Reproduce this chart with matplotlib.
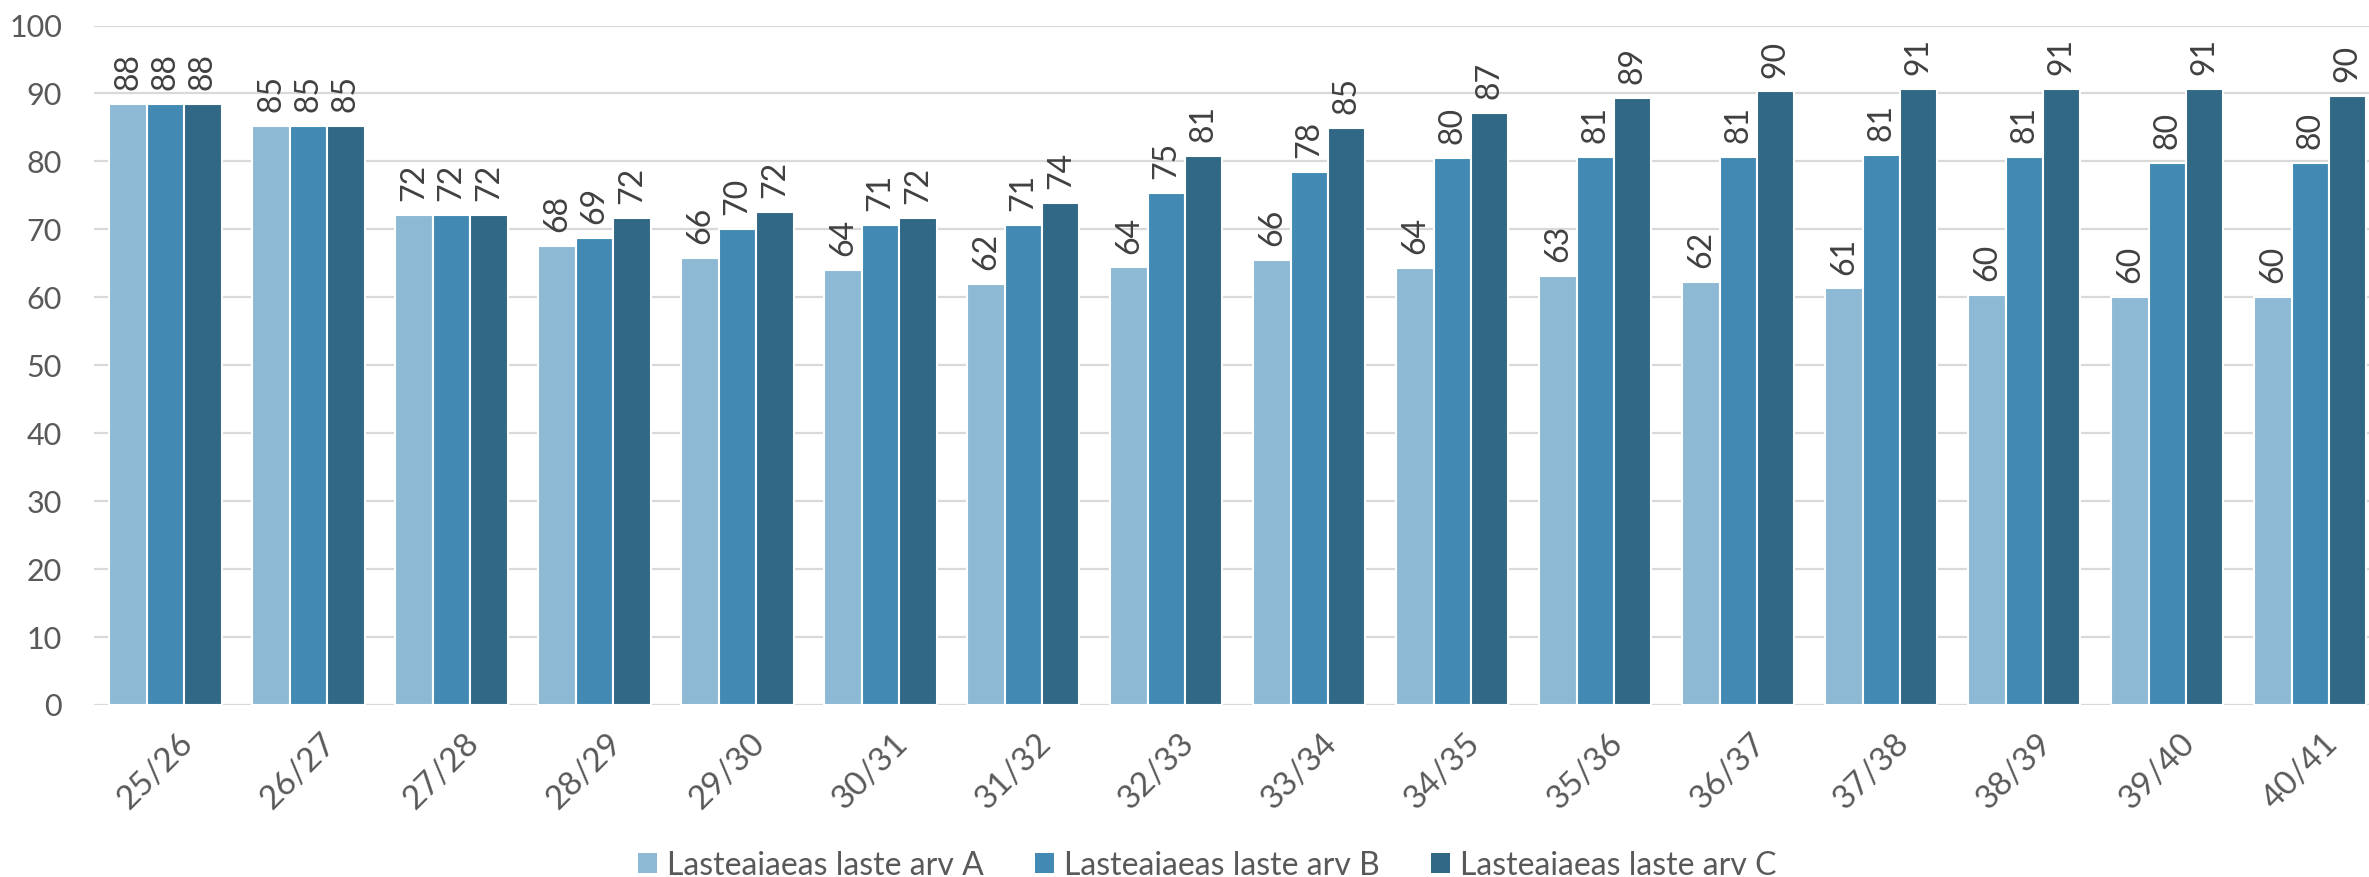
import matplotlib
matplotlib.use("Agg")
import matplotlib.pyplot as plt
import numpy as np
from matplotlib.patches import Patch

categories = ["25/26", "26/27", "27/28", "28/29", "29/30", "30/31", "31/32", "32/33",
              "33/34", "34/35", "35/36", "36/37", "37/38", "38/39", "39/40", "40/41"]
series_names = ["Lasteaiaeas laste arv A", "Lasteaiaeas laste arv B", "Lasteaiaeas laste arv C"]
values_a = [88.4, 85.2, 72.1, 67.6, 65.8, 64.0, 62.0, 64.4, 65.5, 64.3, 63.2, 62.2, 61.3, 60.3, 60.1, 60.1]
values_b = [88.4, 85.2, 72.1, 68.7, 70.0, 70.6, 70.6, 75.3, 78.4, 80.5, 80.7, 80.7, 81.0, 80.7, 79.8, 79.8]
values_c = [88.4, 85.2, 72.1, 71.7, 72.5, 71.7, 73.9, 80.8, 84.9, 87.1, 89.4, 90.3, 90.6, 90.6, 90.6, 89.6]
colors = ["#8DB9D4", "#428AB3", "#316886"]
yticks = [0, 10, 20, 30, 40, 50, 60, 70, 80, 90, 100]

font = ["Lato", "Open Sans", "DejaVu Sans"]

fig = plt.figure(figsize=(23.69, 8.77), dpi=100)
ax = fig.add_axes([94 / 2369, 1 - 705 / 877, 1 - 94 / 2369, (705 - 25.5) / 877])

x = np.arange(len(categories))
bw = 0.784 / 3
for i, (vals, col) in enumerate(zip([values_a, values_b, values_c], colors)):
    pos = x + (i - 1) * bw
    bars = ax.bar(pos, vals, width=bw, color=col, edgecolor="white", linewidth=1.5, zorder=3)
    for b, v in zip(bars, vals):
        ax.annotate(f"{round(v):d}", (b.get_x() + b.get_width() / 2, v),
                    xytext=(0, 10), textcoords="offset points", rotation=90,
                    ha="center", va="bottom", fontsize=23, color="#404040",
                    family=font, zorder=4)

ax.set_ylim(0, 100)
ax.set_xlim(-0.5, 15.41)
ax.set_yticks(yticks)
ax.set_yticklabels([str(t) for t in yticks], family=font, fontsize=22, color="#595959")
ax.yaxis.grid(True, color="#D9D9D9", linewidth=1.6, zorder=0)
ax.set_axisbelow(True)
ax.tick_params(axis="y", length=0, pad=23)
ax.tick_params(axis="x", length=0, pad=24)
ax.set_xticks(x + 0.16)
ax.set_xticklabels(categories, rotation=45, ha="right", va="center", rotation_mode="anchor",
                   family=font, fontsize=24, color="#595959")
for s in ax.spines.values():
    s.set_visible(False)

handles = [Patch(facecolor=c, edgecolor="none") for c in colors]
fig.legend(handles, series_names, loc="center", bbox_to_anchor=(0.5095, 0.013), ncol=3,
           frameon=False, prop={"family": font, "size": 23}, labelcolor="#595959",
           handlelength=0.6, handleheight=0.6, handletextpad=0.31, columnspacing=1.6,
           borderpad=0, borderaxespad=0)

fig.savefig("out.png", dpi=100)
